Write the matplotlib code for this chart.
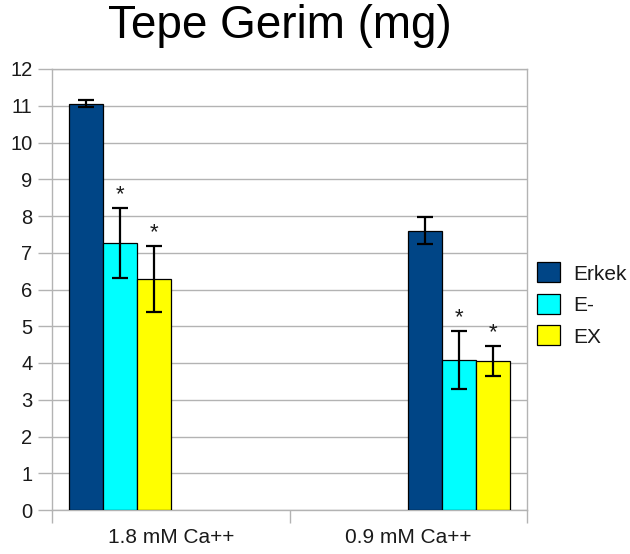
import matplotlib
matplotlib.use("Agg")
import matplotlib.pyplot as plt
import numpy as np

plt.rcParams['font.family'] = ['Liberation Sans', 'DejaVu Sans']

# Data
categories = ["1.8 mM Ca++", "0.9 mM Ca++"]
series = ["Erkek", "E-", "EX"]
values = {
    "Erkek": [11.06, 7.60],
    "E-": [7.27, 4.08],
    "EX": [6.28, 4.05],
}
errors = {
    "Erkek": [0.10, 0.36],
    "E-": [0.95, 0.80],
    "EX": [0.90, 0.41],
}
significant = {
    "Erkek": [False, False],
    "E-": [True, True],
    "EX": [True, True],
}
colors = {"Erkek": "#004586", "E-": "#00ffff", "EX": "#ffff00"}
y_ticks = list(range(0, 13))

# Layout
group_start = [0.07, 1.50]
bar_w = 0.143
grid_col = "#b3b3b3"
text_col = "#1a1a1a"

fig = plt.figure(figsize=(6.3, 5.54), dpi=100)
ax = fig.add_axes([52 / 630, 1 - 510 / 554, 475 / 630, 441 / 554])

for k, name in enumerate(series):
    xs = [group_start[g] + bar_w * (k + 0.5) for g in range(len(categories))]
    ax.bar(xs, values[name], width=bar_w, color=colors[name],
           edgecolor="black", linewidth=0.9, label=name, zorder=3)
    ax.errorbar(xs, values[name], yerr=errors[name], fmt="none",
                ecolor="black", elinewidth=1.6, capsize=6, capthick=1.6,
                zorder=4)
    for x, v, e, s in zip(xs, values[name], errors[name], significant[name]):
        if s:
            ax.annotate("*", xy=(x, v + e), xytext=(0, 2),
                        textcoords="offset points", ha="center",
                        va="bottom", fontsize=16, color=text_col, zorder=5)

ax.set_xlim(0, 2)
ax.set_ylim(0, 12)
ax.set_yticks(y_ticks)
ax.set_yticklabels([str(t) for t in y_ticks], fontsize=14.5, color=text_col)

# category boundary ticks, labels at category centres
ax.set_xticks([0, 1, 2])
ax.set_xticklabels([])
ax.set_xticks([0.5, 1.5], minor=True)
ax.set_xticklabels(categories, minor=True, fontsize=15, color=text_col)
ax.tick_params(axis="x", which="major", length=9, width=1, color=grid_col,
               direction="out")
ax.tick_params(axis="x", which="minor", length=0, pad=13)
ax.tick_params(axis="y", length=10, width=1, color=grid_col,
               direction="out", pad=4)

ax.grid(axis="y", color=grid_col, linewidth=1, zorder=0)
ax.set_axisbelow(True)
for sp in ax.spines.values():
    sp.set_color(grid_col)
    sp.set_linewidth(1)

fig.text(280 / 630, 1 - 38 / 554, "Tepe Gerim (mg)", ha="center",
         va="baseline", fontsize=33, color="black")

leg = ax.legend(loc="center left", bbox_to_anchor=(1 + 10 / 475, 0.466),
                frameon=False, fontsize=15, handlelength=1.1,
                handleheight=1.1, handletextpad=0.62, labelspacing=0.5,
                borderaxespad=0, borderpad=0)
for t in leg.get_texts():
    t.set_color(text_col)

fig.savefig("out.png", dpi=100, facecolor="white")
